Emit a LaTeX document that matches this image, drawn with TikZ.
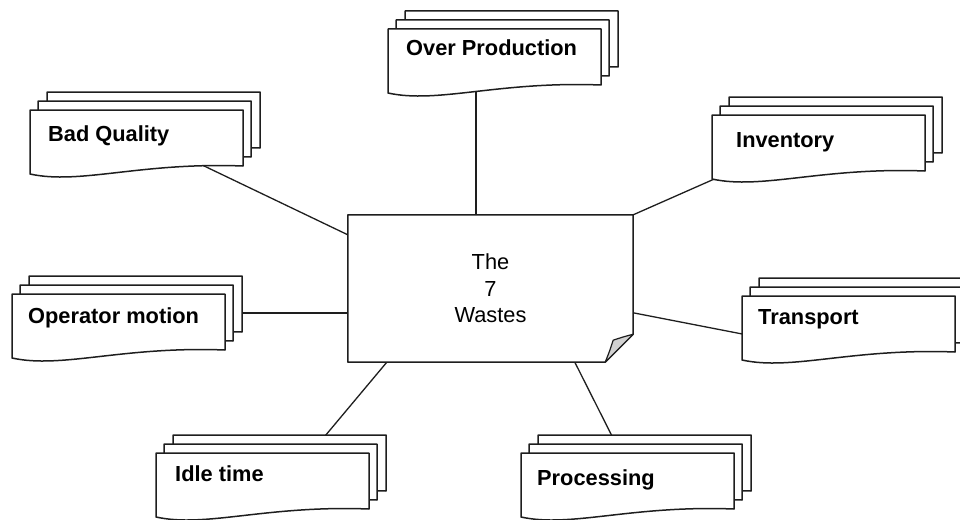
\documentclass[tikz,border=0pt]{standalone}
\usepackage{fontspec}
\setmainfont{Liberation Sans}
\definecolor{inkline}{HTML}{1E1E1E}
\definecolor{foldgray}{HTML}{D2D2D2}
\tikzset{
  docpage/.style={draw=inkline, fill=white, line width=1.5pt, line join=round},
  connector/.style={draw=inkline, line width=1.3pt},
  doclabel/.style={anchor=base west, inner sep=0pt, font=\fontsize{21.8pt}{26pt}\selectfont\bfseries},
  % a stack of three document sheets, placed at the front sheet's top-left corner
  pics/docstack/.style={code={
    \foreach \dx/\dy in {17/-18, 8/-9, 0/0}{
      \path[docpage] (\dx,\dy) -- (\dx+213,\dy) -- (\dx+213,\dy+56)
        .. controls (\dx+110,\dy+52) and (\dx+50,\dy+75) .. (\dx,\dy+64) -- cycle;
    }
  }}
}
\begin{document}
\begin{tikzpicture}[x=1pt, y=-1pt]
\clip (0,0) rectangle (960,519);

% central note
\node[minimum width=285pt, minimum height=147pt, inner sep=0pt] (waste) at (490.5,288.5) {};

% free ends of the spokes, tucked under the document stacks
\coordinate (bqEnd) at (200,164);
\coordinate (opEnd) at (476,85);
\coordinate (invEnd) at (720,176.5);
\coordinate (trEnd) at (750,335.5);
\coordinate (omEnd) at (236,313);
\coordinate (itEnd) at (320,442);
\coordinate (prEnd) at (615,442);

% spokes
\draw[connector] (bqEnd) -- ([yshift=-20pt]waste.north west);
\draw[connector] (opEnd) -- (waste.north -| opEnd);
\draw[connector] (invEnd) -- (waste.north east);
\draw[connector] (trEnd) -- ([yshift=-98pt]waste.north east);
\draw[connector] (omEnd) -- (waste.west |- omEnd);
\draw[connector] (itEnd) -- ([xshift=39pt]waste.south west);
\draw[connector] (prEnd) -- ([xshift=227pt]waste.south west);

% document stacks
\pic at (30,110) {docstack};
\pic at (388,29) {docstack};
\pic at (712,115) {docstack};
\pic at (742,296) {docstack};
\pic at (12,294) {docstack};
\pic at (156,453) {docstack};
\pic at (521,453) {docstack};

\node[doclabel] (bq) at (48,141) {Bad Quality};
\node[doclabel] (op) at (406,56) {Over Production};
\node[doclabel] (inv) at (736,147) {Inventory};
\node[doclabel] (tr) at (758,324) {Transport};
\node[doclabel] (om) at (28,323) {Operator motion};
\node[doclabel] (it) at (175,481) {Idle time};
\node[doclabel] (pr) at (537,485) {Processing};

% outline of the central note with its turned-up corner
\path[fill=white, draw=inkline, line width=1.5pt, line join=round]
  (waste.north west) -- (waste.north east) -- ([yshift=28pt]waste.south east)
  -- ([xshift=-28pt]waste.south east) -- (waste.south west) -- cycle;
\path[fill=foldgray, draw=inkline, line width=1.2pt, line join=round]
  ([xshift=-28pt]waste.south east)
  .. controls ([xshift=-24pt,yshift=10pt]waste.south east) .. ([xshift=-20pt,yshift=22pt]waste.south east)
  .. controls ([xshift=-11pt,yshift=25pt]waste.south east) .. ([yshift=28pt]waste.south east) -- cycle;
\node[inner sep=0pt, align=center, font=\fontsize{21.8pt}{26.5pt}\selectfont] (wasteText) at (waste.center) {The\\7\\Wastes};
\end{tikzpicture}
\end{document}
